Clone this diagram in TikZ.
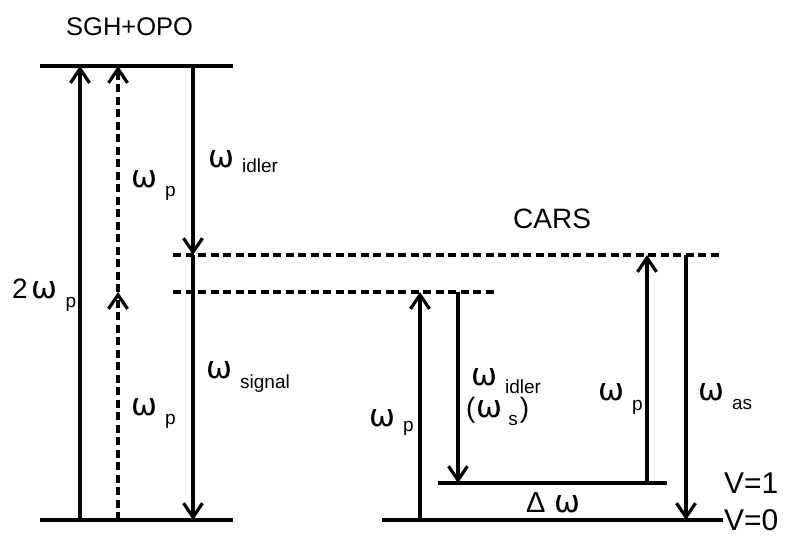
\documentclass[tikz,border=0pt]{standalone}
\usepackage{fontspec}
\setmainfont{Liberation Sans}
\newfontfamily\omfont{DejaVu Sans}
\usetikzlibrary{arrows.meta}
\newcommand\OmG{{\omfont\fontsize{31}{31}\selectfont ω}}
\newcommand\Om[2][9pt]{\OmG\hspace{8pt}\raisebox{-#1}{\fontsize{19}{19}\selectfont #2}}
\begin{document}
\begin{tikzpicture}[x=1pt,y=-1pt,
  lvl/.style={line width=3.4pt},
  dlvl/.style={line width=3.2pt, dash pattern=on 8pt off 4.5pt},
  arr/.style={line width=3.4pt, -{Straight Barb[length=14pt,width=19pt,line width=3.2pt]}},
  darr/.style={arr, dash pattern=on 8pt off 4.5pt},
  lbl/.style={inner sep=0pt, anchor=base west},
  big/.style={lbl, font=\fontsize{30}{32}\selectfont},
]
\useasboundingbox (0,0) rectangle (790,539);
% levels
\coordinate (T1) at (40,66);   \coordinate (T2) at (233,66);
\coordinate (B1) at (40,520);  \coordinate (B2) at (233,520);
\coordinate (VA1) at (173,255); \coordinate (VA2) at (720,255);
\coordinate (VB1) at (173,292); \coordinate (VB2) at (497,292);
\coordinate (V11) at (438,483); \coordinate (V12) at (667,483);
\coordinate (V01) at (382,520); \coordinate (V02) at (723,520);
\draw[lvl] (T1) -- (T2);
\draw[lvl] (B1) -- (B2);
\draw[dlvl] (VA1) -- (VA2);
\draw[dlvl] (VB1) -- (VB2);
\draw[lvl] (V11) -- (V12);
\draw[lvl] (V01) -- (V02);
% columns
\coordinate (c1) at (80,0);
\coordinate (c2) at (118,0);
\coordinate (c3) at (193,0);
\coordinate (c4) at (420,0);
\coordinate (c5) at (458,0);
\coordinate (c6) at (647,0);
\coordinate (c7) at (686,0);
% arrows
\draw[arr]  (c1 |- B1) -- (c1 |- T1);
\draw[darr] (c2 |- B1) -- (c2 |- VB1);
\draw[darr] (c2 |- VB1) -- (c2 |- T1);
\draw[arr]  (c3 |- T1) -- (c3 |- VA1);
\draw[arr]  (c3 |- VA1) -- (c3 |- B1);
\draw[arr]  (c4 |- V01) -- (c4 |- VB1);
\draw[arr]  (c5 |- VB1) -- (c5 |- V11);
\draw[arr]  (c6 |- V11) -- (c6 |- VA1);
\draw[arr]  (c7 |- VA1) -- (c7 |- V01);
% labels
\node[lbl, font=\fontsize{25.5}{28}\selectfont] (sgh) at (66,35) {SGH+OPO};
\node[lbl, font=\fontsize{28}{30}\selectfont] (cars) at (513,228) {CARS};
\node[lbl] (wp1) at (131,187) {\Om{p}};
\node[lbl] (wp2) at (131,415) {\Om{p}};
\node[lbl] (w2p) at (12,298) {{\fontsize{28}{30}\selectfont 2}\hspace{4pt}\Om{p}};
\node[lbl] (widl) at (208,167) {\Om[5pt]{idler}};
\node[lbl] (wsig) at (206,378) {\Om[10pt]{signal}};
\node[lbl] (cwp1) at (369,426) {\Om[5pt]{p}};
\node[lbl] (cwid) at (471,385) {\Om[8pt]{idler}};
\node[lbl] (cws) at (466,417) {{\fontsize{28}{30}\selectfont (}\hspace{1pt}\OmG\hspace{6pt}\raisebox{-8pt}{\fontsize{19}{19}\selectfont s}\hspace{2pt}{\fontsize{28}{30}\selectfont )}};
\node[lbl] (cwp2) at (598,400) {\Om[10pt]{p}};
\node[lbl] (cwas) at (698,400) {\Om[9pt]{as}};
\node[big] (v1) at (724,493) {V=1};
\node[big] (v0) at (724,530) {V=0};
\node[lbl] (dw) at (526,512) {{\fontsize{29}{30}\selectfont Δ}\hspace{9pt}\OmG};
\end{tikzpicture}
\end{document}
